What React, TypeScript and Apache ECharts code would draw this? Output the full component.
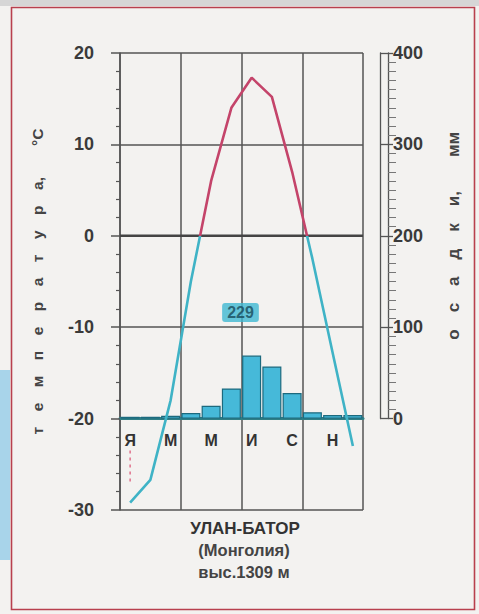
import { useEffect, useRef } from 'react';
import * as echarts from 'echarts';

const months = ['Я', 'Ф', 'М', 'А', 'М', 'И', 'И', 'А', 'С', 'О', 'Н', 'Д'];
const temperature = [-29.2, -26.7, -18, -5, 6, 14, 17.3, 15.2, 7, -2.5, -12.8, -23];
const precipitation = [2, 2, 3, 6, 14, 33, 69, 57, 28, 7, 4, 4];
const totalPrecip = 229;
const totalLabelAt = [5.95, -8.4];
const januaryMinMark = [-23.5, -27];
const station = 'УЛАН-БАТОР';
const country = '(Монголия)';
const altitude = 'выс.1309 м';
const tempName = 'т\u2003е\u2003м\u2003п\u2003е\u2003р\u2003а\u2003т\u2003у\u2003р\u2003а,\u2003\u2003°С';
const precName = 'о\u2003с\u2003а\u2003д\u2003к\u2003и,\u2003\u2003мм';

const FONT = "'Liberation Sans Narrow', 'Liberation Sans', Arial, sans-serif";
const RED = '#c4446a';
const CYAN = '#3fb3c6';
const GRIDC = '#555555';

export default function App() {
  const ref = useRef<HTMLDivElement>(null);
  useEffect(() => {
    if (!ref.current) return;
    const chart = echarts.init(ref.current, undefined, { renderer: 'svg' });
    const top = 53;
    const bottom0 = 104;
    const h0 = 614 - top - bottom0;
    const y20 = top + h0 * (40 / 50);
    const bottom1 = 614 - y20;
    chart.setOption({
      animation: false,
      backgroundColor: '#f3f2f0',
      textStyle: { fontFamily: FONT },
      grid: [
        { left: 120, right: 116, top, bottom: bottom0 },
        { left: 120, right: 116, top, bottom: bottom1 },
      ],
      xAxis: [
        {
          type: 'category', gridIndex: 0, data: months, boundaryGap: true,
          axisLine: { show: false }, axisTick: { show: false }, axisLabel: { show: false }, splitLine: { show: false },
        },
        {
          type: 'value', gridIndex: 0, min: 0, max: 12, interval: 3,
          axisLine: { show: false }, axisTick: { show: false }, axisLabel: { show: false },
          splitLine: { show: true, lineStyle: { color: GRIDC, width: 1.5 } },
        },
        {
          type: 'category', gridIndex: 1, data: months, boundaryGap: true,
          axisLine: { show: true, lineStyle: { color: '#2f7f86', width: 3 } },
          axisTick: { show: false },
          axisLabel: { interval: 1, margin: 14, fontSize: 16, fontWeight: 'bold', color: '#333', fontFamily: FONT },
          splitLine: { show: false },
        },
      ],
      yAxis: [
        {
          type: 'value', gridIndex: 0, min: -30, max: 20, interval: 10, position: 'left', offset: 13,
          axisLine: { show: true, lineStyle: { color: GRIDC, width: 1.5 } },
          axisTick: { show: true, length: 9, lineStyle: { color: GRIDC, width: 1.5 } },
          minorTick: { show: true, splitNumber: 5, length: 4, lineStyle: { color: GRIDC, width: 1.2 } },
          axisLabel: { margin: 13, fontSize: 18, fontWeight: 'bold', color: '#3a3a3a', fontFamily: FONT },
          splitLine: { show: true, lineStyle: { color: GRIDC, width: 1.5 } },
          name: tempName, nameLocation: 'middle', nameGap: 62, nameRotate: 90,
          nameTextStyle: { fontSize: 15.5, fontWeight: 'bold', color: '#444', fontFamily: FONT },
        },
        {
          type: 'value', gridIndex: 1, min: 0, max: 400, interval: 100, position: 'right', offset: 25,
          axisLine: { show: true, lineStyle: { color: GRIDC, width: 1.3 } },
          axisTick: { show: false },
          minorTick: { show: true, splitNumber: 10, length: 8, lineStyle: { color: '#777', width: 1 } },
          axisLabel: { margin: 5, fontSize: 18, fontWeight: 'bold', color: '#3a3a3a', fontFamily: FONT },
          splitLine: { show: false },
          name: precName, nameLocation: 'middle', nameGap: 57, nameRotate: 90,
          nameTextStyle: { fontSize: 17, fontWeight: 'bold', color: '#444', fontFamily: FONT },
        },
        {
          type: 'value', gridIndex: 1, min: 0, max: 400, interval: 100, position: 'right', offset: 17,
          axisLine: { show: true, lineStyle: { color: GRIDC, width: 1.3 } },
          axisTick: { show: true, length: 13, lineStyle: { color: GRIDC, width: 1.3 } },
          axisLabel: { show: false }, splitLine: { show: false },
        },
      ],
      visualMap: {
        type: 'piecewise', show: false, seriesIndex: 0, dimension: 1,
        pieces: [{ min: -30, max: 0, color: CYAN }, { min: 0, max: 20, color: RED }],
        outOfRange: { color: CYAN },
      },
      series: [
        {
          type: 'line', xAxisIndex: 0, yAxisIndex: 0, data: temperature,
          symbol: 'none', lineStyle: { width: 2.6 }, z: 5,
        },
        {
          type: 'bar', xAxisIndex: 2, yAxisIndex: 1, data: precipitation,
          barCategoryGap: '6%',
          itemStyle: { color: '#46b9d9', borderColor: '#1c6a7e', borderWidth: 1.2 },
          z: 3,
        },
        {
          type: 'line', xAxisIndex: 0, yAxisIndex: 0,
          data: januaryMinMark.map((v) => [0, v]),
          symbol: 'none', lineStyle: { color: '#e0708a', width: 1.5, type: [3, 4] }, z: 4,
        },
        {
          type: 'scatter', xAxisIndex: 1, yAxisIndex: 0,
          data: [totalLabelAt], symbolSize: 2, itemStyle: { color: 'rgba(0,0,0,0)' }, z: 8,
          label: {
            show: true, position: 'inside', formatter: () => String(totalPrecip),
            fontSize: 16, fontWeight: 'bold', color: '#184a5a', fontFamily: FONT,
            backgroundColor: '#3fb8d2', borderRadius: 3, padding: [2, 5, 1, 5],
          },
        },
        {
          type: 'line', xAxisIndex: 1, yAxisIndex: 0, data: [[0, 0], [12, 0]],
          symbol: 'none', lineStyle: { color: '#444', width: 2.6 }, z: 2, silent: true,
        },
      ],
      graphic: [
        { type: 'rect', shape: { x: 0, y: 0, width: 479, height: 6 }, style: { fill: '#d6d6d6' }, silent: true },
        { type: 'rect', shape: { x: 0, y: 370, width: 10, height: 190 }, style: { fill: '#a8d4ea' }, silent: true },
        { type: 'rect', shape: { x: 11.5, y: 7.5, width: 463, height: 602 }, style: { fill: 'none', stroke: '#b8404e', lineWidth: 1.6 }, silent: true },
        { type: 'text', x: 245, y: 528, style: { text: station, fontSize: 17, fontWeight: 'bold', fill: '#333', fontFamily: FONT, align: 'center', verticalAlign: 'middle' } },
        { type: 'text', x: 244, y: 550, style: { text: country, fontSize: 16.5, fontWeight: 'bold', fill: '#444', fontFamily: FONT, align: 'center', verticalAlign: 'middle' } },
        { type: 'text', x: 244, y: 572, style: { text: altitude, fontSize: 16.5, fontWeight: 'bold', fill: '#444', fontFamily: FONT, align: 'center', verticalAlign: 'middle' } },
      ],
    });
    return () => chart.dispose();
  }, []);
  return <div ref={ref} style={{ position: 'fixed', left: 0, top: 0, width: 479, height: 614 }} />;
}
